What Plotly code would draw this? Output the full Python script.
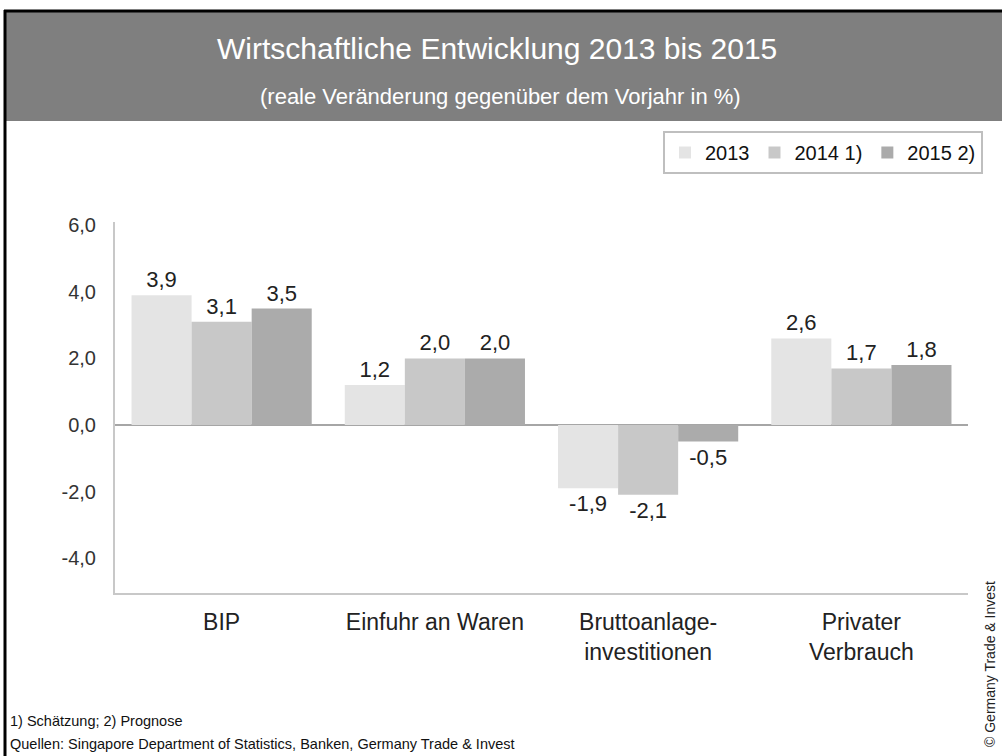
import plotly.graph_objects as go

categories = ["BIP", "Einfuhr an Waren", "Bruttoanlage-<br>investitionen", "Privater<br>Verbrauch"]
series_names = ["2013", "2014 1)", "2015 2)"]
values_2013 = [3.9, 1.2, -1.9, 2.6]
values_2014 = [3.1, 2.0, -2.1, 1.7]
values_2015 = [3.5, 2.0, -0.5, 1.8]
tick_vals = [-4, -2, 0, 2, 4, 6]
tick_text = [f"{v:.1f}".replace(".", ",") for v in tick_vals]

colors = ["#e4e4e4", "#c8c8c8", "#ababab"]
FONT = "Liberation Sans Narrow, Liberation Sans, Arial, sans-serif"

W, H = 1002, 756
L, R, T, B = 115, 34, 222, 163
PW, PH = W - L - R, H - T - B


def px(x):
    return (x - L) / PW


def py(y):
    return (H - B - y) / PH


fig = go.Figure()
for name, vals, col in zip(series_names, [values_2013, values_2014, values_2015], colors):
    fig.add_trace(go.Bar(
        x=categories, y=vals, name=name,
        marker=dict(color=col, line=dict(width=0)),
        texttemplate="%{y:.1f}", textposition="outside",
        textfont=dict(size=22, color="#222222", family=FONT),
        cliponaxis=False,
    ))

shapes = [
    dict(type="rect", xref="paper", yref="paper", x0=px(6), x1=px(1002), y0=py(121), y1=py(12),
         fillcolor="#7f7f7f", line=dict(width=0), layer="below"),
    dict(type="line", xref="paper", yref="paper", x0=px(4), x1=px(1002), y0=py(11), y1=py(11),
         line=dict(color="#000000", width=3)),
    dict(type="line", xref="paper", yref="paper", x0=px(5), x1=px(5), y0=py(10), y1=py(756),
         line=dict(color="#000000", width=3)),
]

annotations = [
    dict(text="Wirtschaftliche Entwicklung 2013 bis 2015", xref="paper", yref="paper",
         x=px(497), y=py(48), xanchor="center", yanchor="middle", showarrow=False,
         font=dict(size=30, color="#ffffff", family=FONT)),
    dict(text="(reale Veränderung gegenüber dem Vorjahr in %)", xref="paper", yref="paper",
         x=px(500), y=py(96), xanchor="center", yanchor="middle", showarrow=False,
         font=dict(size=22, color="#ffffff", family=FONT)),
    dict(text="1) Schätzung; 2) Prognose", xref="paper", yref="paper",
         x=px(8), y=py(721), xanchor="left", yanchor="middle", showarrow=False,
         font=dict(size=14.5, color="#111111", family=FONT)),
    dict(text="Quellen: Singapore Department of Statistics, Banken, Germany Trade & Invest", xref="paper", yref="paper",
         x=px(8), y=py(744), xanchor="left", yanchor="middle", showarrow=False,
         font=dict(size=14.5, color="#111111", family=FONT)),
    dict(text="© Germany Trade & Invest", xref="paper", yref="paper",
         x=px(990), y=py(664), xanchor="center", yanchor="middle", showarrow=False, textangle=-90,
         font=dict(size=14, color="#222222", family=FONT)),
]

fig.update_layout(
    width=W, height=H,
    margin=dict(l=L, r=R, t=T, b=B, autoexpand=False),
    paper_bgcolor="#ffffff", plot_bgcolor="#ffffff",
    separators=",.",
    barmode="group", bargap=0.155, bargroupgap=0,
    font=dict(family=FONT, color="#222222"),
    showlegend=True,
    legend=dict(orientation="h", x=px(663), y=py(131), xanchor="left", yanchor="top",
                bordercolor="#bfbfbf", borderwidth=2, bgcolor="#ffffff",
                font=dict(size=20, color="#111111", family=FONT),
                itemwidth=30, traceorder="normal", tracegroupgap=0),
    shapes=shapes,
    annotations=annotations,
)

fig.update_xaxes(showgrid=False, showline=True, linecolor="#c8c8c8", linewidth=2,
                 ticks="", ticklabelstandoff=7,
                 tickfont=dict(size=23, color="#222222", family=FONT))
fig.update_yaxes(range=[-5.05, 6.1], tickvals=tick_vals, ticktext=tick_text,
                 showgrid=False, showline=True, linecolor="#c8c8c8", linewidth=2,
                 zeroline=True, zerolinecolor="#a6a6a6", zerolinewidth=2,
                 ticks="", ticklabelstandoff=13,
                 tickfont=dict(size=20, color="#333333", family=FONT))

fig.write_html("out.html", config={"displayModeBar": False},
               post_script="document.body.style.margin='0';document.body.style.overflow='hidden';")
